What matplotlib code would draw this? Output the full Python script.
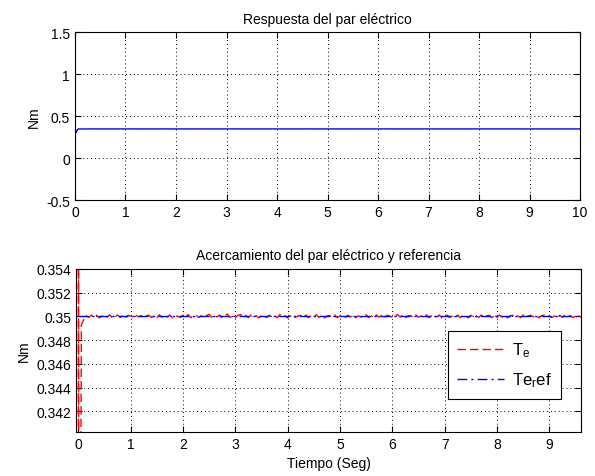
import numpy as np
import matplotlib.pyplot as plt

plt.rcParams['font.family'] = ['Liberation Sans', 'DejaVu Sans']
plt.rcParams['font.size'] = 10

# start-up of the electric torque (Nm)
t_start = [0.0, 0.004, 0.008, 0.012, 0.03, 0.05, 0.06, 0.08, 0.1, 0.12]
te_start = [0.300, 0.362, 0.335, 0.300, 0.320, 0.3380, 0.3493, 0.3495, 0.3497, 0.3500]

# ripple around the reference after start-up, in 1e-5 Nm, one sample every 0.05 s
ripple = [6, -8, 12, -4, 10, -12, 4, 8, -6, 14, -10, 2, 12, -8, 6, -14, 10, 4, -6, 12,
          -4, 8, -12, 6, 10, -8, 4, -10, 14, -6, 8, -4, 12, -12, 6, 2, -8, 10, -6, 16,
          -10, 4, 12, -8, 6, -12, 8, 18, -6, 10, -4, 12, -10, 6, 20, -8, 4, -12, 10, 16,
          -6, 8, -10, 14, -4, 6, -12, 10, 4, -8, 12, -6, 8, -10, 16, -4, 6, -12, 8, 14,
          -8, 4, 10, -6, 12, -10, 6, -4, 14, -8, 10, -12, 4, 8, -6, 12, -10, 6, 2, -8,
          10, -4, 12, -10, 6, -6, 8, 14, -8, 4, -10, 12, -6, 8, -12, 10, 4, -8, 6, 16,
          -4, 10, -12, 6, 8, -10, 12, -6, 4, -8, 14, -10, 6, 8, -4, 12, -12, 6, 10, -8,
          4, -6, 12, -10, 8, 6, -12, 10, -4, 8, -8, 12, -6, 4, 10, -10, 6, -8, 12, -4,
          8, -12, 6, 10, -6, 4, -10, 12, -8, 6, 10, -4, 8, -12, 6, 12, -8, 4, -10, 6,
          -6, 10, -8, 12, -4, 8, -10, 6, 12, -6, 8, -4]
t_step = 0.05
te_ref = 0.35

t_noise = 0.15 + t_step * np.arange(len(ripple))
t = np.concatenate([t_start, t_noise])
te = np.concatenate([te_start, te_ref + np.array(ripple) * 1e-5])
t_full = np.append(t, 10.0)
te_full = np.append(te, te_ref)

fig = plt.figure(figsize=(5.95, 4.77), dpi=100)
ax1 = fig.add_axes([0.126, 0.578, 0.849, 0.352])
ax2 = fig.add_axes([0.128, 0.093, 0.848, 0.341])


def matlab_style(ax):
    ax.grid(True, color='black', linestyle=(0, (1, 3)), linewidth=0.7)
    ax.tick_params(direction='in', top=True, right=True, length=4, width=0.8,
                   colors='black', labelsize=10)
    for s in ax.spines.values():
        s.set_linewidth(0.8)


# full response
ax1.plot(t_full, te_full, color='blue', linewidth=1.0)
ax1.set_xlim(0, 10)
ax1.set_ylim(-0.5, 1.5)
ax1.set_xticks(range(0, 11))
ax1.set_yticks([-0.5, 0, 0.5, 1, 1.5])
ax1.set_yticklabels(['-0.5', '0', '0.5', '1', '1.5'])
ax1.set_ylabel('Nm')
ax1.set_title('Respuesta del par eléctrico', fontsize=10, pad=7)
matlab_style(ax1)

# zoom on the steady state
ax2.plot(t, te, color='red', linestyle=(0, (6, 3)), linewidth=1.0,
         label=r'T$\mathregular{_e}$')
ax2.plot([0, 10], [te_ref, te_ref], color='blue', linestyle=(0, (7, 3, 1.5, 3)),
         linewidth=1.0, label=r'Te$\mathregular{_r}$ef')
ax2.set_xlim(-0.04, 9.6)
ax2.set_ylim(0.3403, 0.354)
ax2.set_xticks(range(0, 10))
ax2.set_yticks([0.342, 0.344, 0.346, 0.348, 0.35, 0.352, 0.354])
ax2.set_yticklabels(['0.342', '0.344', '0.346', '0.348', '0.35', '0.352', '0.354'])
ax2.set_ylabel('Nm')
ax2.set_xlabel('Tiempo (Seg)')
ax2.set_title('Acercamiento del par eléctrico y referencia', fontsize=10, pad=7)
matlab_style(ax2)

leg = ax2.legend(loc='lower right', bbox_to_anchor=(0.978, 0.152), fancybox=False,
                 edgecolor='black', framealpha=1, fontsize=12, handlelength=2.8,
                 handletextpad=0.5, borderpad=0.55, labelspacing=0.7)
leg.get_frame().set_linewidth(0.8)

fig.savefig('out.png', dpi=100)
